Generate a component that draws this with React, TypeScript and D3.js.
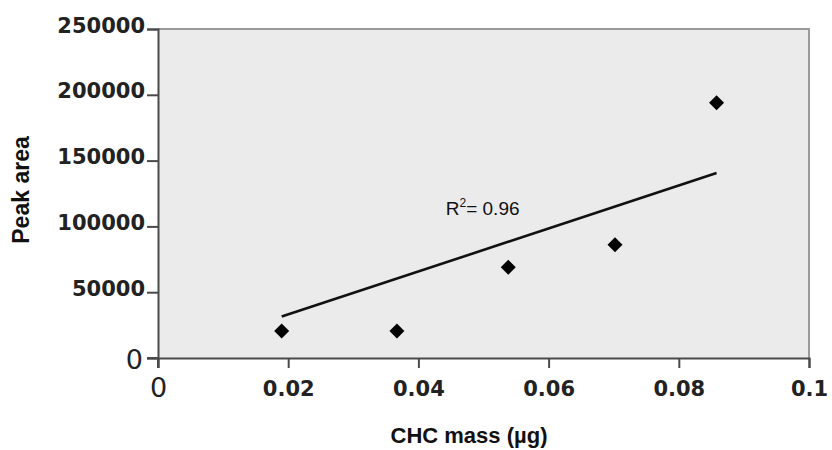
import React, { useEffect, useRef } from "react";
import * as d3 from "d3";

// CHC calibration points (mass in µg, peak area)
const massValues = [0.019, 0.0367, 0.0538, 0.0702, 0.0858];
const peakAreas = [20500, 20500, 69000, 86000, 194000];

// trend line as drawn in the figure
const trendMass = [0.019, 0.0858];
const trendArea = [31500, 140500];

const xTicks = [0, 0.02, 0.04, 0.06, 0.08, 0.1];
const yTicks = [0, 50000, 100000, 150000, 200000, 250000];
const rSquaredLabel = "0.96";

const width = 832;
const height = 450;
const margin = { top: 29, right: 23, bottom: 92, left: 158 };

const App = () => {
  const ref = useRef<SVGSVGElement | null>(null);

  useEffect(() => {
    const svg = d3.select(ref.current);
    svg.selectAll("*").remove();

    const x = d3
      .scaleLinear()
      .domain([0, 0.1])
      .range([margin.left, width - margin.right]);
    const y = d3
      .scaleLinear()
      .domain([0, 250000])
      .range([height - margin.bottom, margin.top]);

    const [x0, x1] = x.range();
    const [y0, y1] = y.range();

    // plot background
    svg
      .append("rect")
      .attr("x", x0)
      .attr("y", y1)
      .attr("width", x1 - x0)
      .attr("height", y0 - y1)
      .attr("fill", "#ebebeb")
      .attr("stroke", "none");

    // top + right frame
    svg
      .append("path")
      .attr("d", `M${x0},${y1}H${x1}V${y0}`)
      .attr("fill", "none")
      .attr("stroke", "#9a9a9a")
      .attr("stroke-width", 2);

    // y axis
    const yAxis = svg
      .append("g")
      .attr("transform", `translate(${x0},0)`)
      .call(
        d3
          .axisLeft(y)
          .tickValues(yTicks)
          .tickSize(11)
          .tickPadding(2)
          .tickFormat((d) => String(d))
      );
    yAxis.select(".domain").attr("stroke", "#4a4a4a").attr("stroke-width", 2);
    yAxis.selectAll(".tick line").attr("stroke", "#4a4a4a").attr("stroke-width", 2);
    yAxis
      .selectAll(".tick text")
      .attr("fill", "#222")
      .attr("dy", "0.15em")
      .style("font-family", "DejaVu Sans")
      .style("font-weight", "bold")
      .style("font-size", "21px");
    yAxis
      .selectAll(".tick text")
      .filter((d) => d === 0)
      .attr("x", -15)
      .attr("dy", "0.4em")
      .style("font-weight", "normal")
      .style("font-size", "27px");

    // x axis
    const xAxis = svg
      .append("g")
      .attr("transform", `translate(0,${y0})`)
      .call(
        d3
          .axisBottom(x)
          .tickValues(xTicks)
          .tickSize(10)
          .tickPadding(13)
          .tickFormat((d) => String(d))
      );
    xAxis.select(".domain").attr("stroke", "#4a4a4a").attr("stroke-width", 2);
    xAxis.selectAll(".tick line").attr("stroke", "#4a4a4a").attr("stroke-width", 2);
    xAxis
      .selectAll(".tick text")
      .attr("fill", "#222")
      .style("font-family", "DejaVu Sans")
      .style("font-weight", "bold")
      .style("font-size", "21px");
    xAxis
      .selectAll(".tick text")
      .filter((d) => d === 0)
      .attr("y", 20)
      .style("font-weight", "normal")
      .style("font-size", "27px");

    // extend axis lines past the origin like the original
    svg
      .append("path")
      .attr("d", `M${x0 - 11},${y0}H${x0}M${x0},${y0}V${y0 + 10}`)
      .attr("stroke", "#4a4a4a")
      .attr("stroke-width", 2);

    // trend line
    const line = d3
      .line<number>()
      .x((d) => x(d))
      .y((d, i) => y(trendArea[i]));
    svg
      .append("path")
      .datum(trendMass)
      .attr("d", line)
      .attr("fill", "none")
      .attr("stroke", "#111")
      .attr("stroke-width", 2.6);

    // points
    const diamond = d3.symbol().type(d3.symbolSquare).size(112);
    svg
      .selectAll(".pt")
      .data(massValues)
      .enter()
      .append("path")
      .attr("class", "pt")
      .attr("d", diamond)
      .attr(
        "transform",
        (d, i) => `translate(${x(d)},${y(peakAreas[i])}) rotate(45)`
      )
      .attr("fill", "#000");

    // R² annotation
    const rText = svg
      .append("text")
      .attr("x", x(0.0442))
      .attr("y", y(109000))
      .style("font-family", "Liberation Sans, Arial")
      .style("font-size", "19px")
      .attr("fill", "#111");
    rText.append("tspan").text("R");
    rText
      .append("tspan")
      .attr("dy", -8)
      .style("font-size", "12px")
      .text("2");
    rText.append("tspan").attr("dy", 8).text(`= ${rSquaredLabel}`);

    // axis titles
    svg
      .append("text")
      .attr("x", 469)
      .attr("y", 443)
      .attr("text-anchor", "middle")
      .style("font-family", "Liberation Sans, Arial")
      .style("font-weight", "bold")
      .style("font-size", "22px")
      .attr("fill", "#111")
      .text("CHC mass (µg)");

    svg
      .append("text")
      .attr("transform", `translate(29,190) rotate(-90)`)
      .attr("text-anchor", "middle")
      .style("font-family", "Liberation Sans, Arial")
      .style("font-weight", "bold")
      .style("font-size", "23px")
      .attr("fill", "#111")
      .text("Peak area");
  }, []);

  return (
    <svg
      ref={ref}
      width={width}
      height={height}
      style={{ position: "absolute", left: 0, top: 0, background: "#fff" }}
    />
  );
};

export default App;
